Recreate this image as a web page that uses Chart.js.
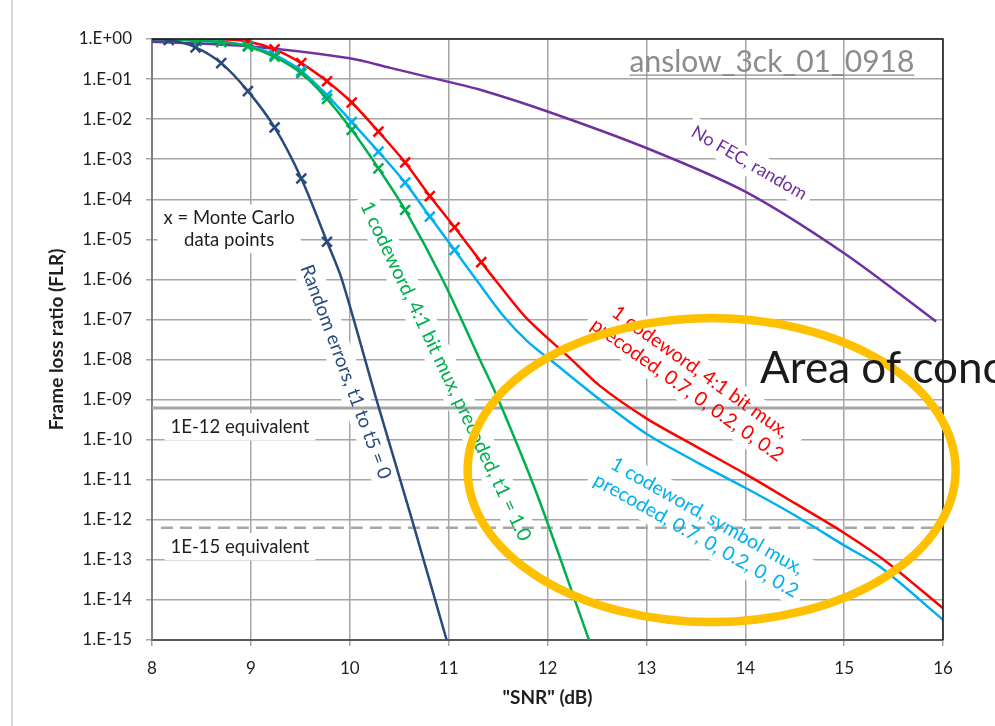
<!DOCTYPE html>
<html>
<head>
<meta charset="utf-8">
<script src="https://cdn.jsdelivr.net/npm/chart.js@4.4.1/dist/chart.umd.min.js"></script>
<style>
  html, body { margin: 0; background: #fff; }
  #wrap { width: 995px; height: 726px; }
</style>
</head>
<body>
<div id="wrap"><canvas id="flr" width="995" height="726"></canvas></div>
<script>
// --- data: SNR (dB) vs frame loss ratio ---
var yTicks = [1, 1e-1, 1e-2, 1e-3, 1e-4, 1e-5, 1e-6, 1e-7, 1e-8, 1e-9, 1e-10, 1e-11, 1e-12, 1e-13, 1e-14, 1e-15];
var yTickLabels = ['1.E+00', '1.E-01', '1.E-02', '1.E-03', '1.E-04', '1.E-05', '1.E-06', '1.E-07',
                   '1.E-08', '1.E-09', '1.E-10', '1.E-11', '1.E-12', '1.E-13', '1.E-14', '1.E-15'];

// random errors, t1 to t5 = 0 (Monte Carlo points at index 1..7)
var snrRandom = [8.0, 8.17, 8.44, 8.70, 8.97, 9.24, 9.51, 9.77, 9.92, 10.27, 10.63, 10.98];
var flrRandom = [0.98, 0.95, 0.62, 0.25, 0.050, 6.2e-3, 3.3e-4, 8.7e-6, 1.0e-6, 1.0e-9, 1.0e-12, 1e-15];

// 1 codeword, 4:1 bit mux, precoded, t1 = 1.0 (points 1..10)
var snrBitT1 = [8.0, 8.17, 8.45, 8.70, 8.97, 9.24, 9.51, 9.77, 10.02, 10.29, 10.56, 10.94, 11.32, 11.49, 11.89, 12.42];
var flrBitT1 = [0.99, 0.98, 0.91, 0.85, 0.65, 0.36, 0.14, 0.032, 5.4e-3, 5.9e-4, 5.4e-5, 9.8e-7, 9.5e-9, 1.2e-9, 4.6e-12, 1e-15];

// 1 codeword, symbol mux, precoded 0.7,0,0.2,0,0.2 (points 1..12)
var snrSym = [8.0, 8.17, 8.45, 8.70, 8.97, 9.24, 9.51, 9.77, 10.02, 10.29, 10.56, 10.81, 11.06,
              11.28, 11.55, 11.8, 12.05, 12.53, 13.0, 13.54, 14.0, 14.5, 15.0, 15.36, 16.0];
var flrSym = [0.99, 0.98, 0.91, 0.85, 0.68, 0.40, 0.16, 0.040, 8.5e-3, 1.55e-3, 2.6e-4, 3.7e-5, 5.4e-6,
              9.8e-7, 1.26e-7, 2.8e-8, 8.9e-9, 1.0e-9, 1.4e-10, 2.5e-11, 6.3e-12, 1.3e-12, 2.3e-13, 6.8e-14, 3.2e-15];

// 1 codeword, 4:1 bit mux, precoded 0.7,0,0.2,0,0.2 (points 1..13)
var snrBit = [8.0, 8.17, 8.45, 8.70, 8.97, 9.24, 9.51, 9.77, 10.02, 10.29, 10.56, 10.81, 11.06, 11.33,
              11.5, 11.8, 12.23, 12.53, 13.0, 13.5, 14.0, 14.5, 15.0, 15.43, 16.0];
var flrBit = [1.0, 1.0, 1.0, 0.98, 0.87, 0.55, 0.25, 0.088, 0.026, 4.9e-3, 8.3e-4, 1.2e-4, 2.0e-5, 2.7e-6,
              7.9e-7, 1.0e-7, 1.07e-8, 2.2e-9, 3.4e-10, 6.8e-11, 1.4e-11, 2.6e-12, 4.7e-13, 8.9e-14, 6.2e-15];

// no FEC, random
var snrNoFec = [8.0, 9.0, 10.0, 10.41, 11.0, 11.32, 12.0, 13.0, 14.0, 15.0, 15.93];
var flrNoFec = [0.85, 0.65, 0.33, 0.19, 0.085, 0.054, 0.0155, 1.9e-3, 1.55e-4, 4.5e-6, 8.9e-8];

// equivalence reference levels
var snrEq12 = [8.0, 16.0];
var flrEq12 = [6.2e-10, 6.2e-10];
var snrEq15 = [8.09, 16.0];
var flrEq15 = [6.3e-13, 6.3e-13];

// --- helpers ---
var pts = function (xs, ys) {
  return xs.map(function (x, i) { return {x: x, y: ys[i]}; });
};
var GRID = '#a6a6a6';
var TEXT = '#1f1f1f';
var FONT = 'Lato, "Liberation Sans", sans-serif';

var curve = function (label, xs, ys, color, mcFrom, mcTo) {
  return {
    label: label, data: pts(xs, ys),
    borderColor: color, backgroundColor: color,
    borderWidth: 2.5, tension: 0.3,
    pointStyle: 'crossRot', pointBorderWidth: 2.5, pointBorderColor: color,
    pointRadius: function (c) { return (c.dataIndex >= mcFrom && c.dataIndex <= mcTo) ? 7 : 0; },
    pointHoverRadius: 0,
  };
};

// labels along curves: centre given in (dB, log10 FLR)
var NOTES = [
  {lines: ['No FEC, random'], x: 14.04, e: -3.09, rot: 30, color: '#7030A0', size: 18},
  {lines: ['Random errors, t1 to t5 = 0'], x: 9.96, e: -8.31, rot: 69.5, color: '#294A7C', size: 19},
  {lines: ['1 codeword, 4:1 bit mux, precoded, t1 = 1.0'], x: 10.97, e: -8.29, rot: 64.6, color: '#00B050', size: 19.5},
  {lines: ['1 codeword, 4:1 bit mux,', 'precoded, 0.7, 0, 0.2, 0, 0.2'], x: 13.48, e: -8.53, rot: 35.5, color: '#FF0000', size: 19.5},
  {lines: ['1 codeword, symbol mux,', 'precoded, 0.7, 0, 0.2, 0, 0.2'], x: 13.56, e: -12.15, rot: 29.5, color: '#00B0F0', size: 19.5},
  {lines: ['x = Monte Carlo', 'data points'], x: 8.78, e: -4.74, rot: 0, color: TEXT, size: 18.5},
  {lines: ['1E-12 equivalent'], x: 8.89, e: -9.68, rot: 0, color: TEXT, size: 18.5},
  {lines: ['1E-15 equivalent'], x: 8.89, e: -12.67, rot: 0, color: TEXT, size: 18.5},
];

var at = function (chart, x, e) {
  return {x: chart.scales.x.getPixelForValue(x), y: chart.scales.y.getPixelForValue(Math.pow(10, e))};
};

var notesPlugin = {
  id: 'notes',
  beforeDatasetsDraw: function (chart) {
    // white boxes behind labels knock out the gridlines
    var ctx = chart.ctx;
    NOTES.forEach(function (n) {
      var p = at(chart, n.x, n.e);
      ctx.save();
      ctx.font = n.size + 'px ' + FONT;
      var w = Math.max.apply(null, n.lines.map(function (s) { return ctx.measureText(s).width; }));
      var lh = n.size * 1.15;
      var h = lh * n.lines.length;
      ctx.translate(p.x, p.y);
      ctx.rotate(n.rot * Math.PI / 180);
      ctx.fillStyle = '#fff';
      ctx.fillRect(-w / 2 - 6, -h / 2 - 3, w + 12, h + 6);
      ctx.restore();
    });
  },
  afterDatasetsDraw: function (chart) {
    var ctx = chart.ctx;
    var a = chart.chartArea;

    NOTES.forEach(function (n) {
      var p = at(chart, n.x, n.e);
      var lh = n.size * 1.15;
      ctx.save();
      ctx.font = n.size + 'px ' + FONT;
      ctx.fillStyle = n.color;
      ctx.textAlign = 'center';
      ctx.textBaseline = 'middle';
      ctx.translate(p.x, p.y);
      ctx.rotate(n.rot * Math.PI / 180);
      n.lines.forEach(function (s, i) {
        ctx.fillText(s, 0, (i - (n.lines.length - 1) / 2) * lh);
      });
      ctx.restore();
    });

    // plot frame, top and right
    ctx.save();
    ctx.strokeStyle = '#1a1a1a';
    ctx.lineWidth = 1.5;
    ctx.beginPath();
    ctx.moveTo(a.left, a.top);
    ctx.lineTo(a.right, a.top);
    ctx.lineTo(a.right, a.bottom);
    ctx.stroke();
    ctx.restore();

    // document tag, underlined
    var tag = at(chart, 15.71, -0.55);
    ctx.save();
    ctx.font = '30px ' + FONT;
    ctx.fillStyle = '#8c8c8c';
    ctx.textAlign = 'right';
    ctx.textBaseline = 'alphabetic';
    ctx.fillText('anslow_3ck_01_0918', tag.x, tag.y + 11);
    var tw = ctx.measureText('anslow_3ck_01_0918').width;
    ctx.strokeStyle = '#8c8c8c';
    ctx.lineWidth = 1.2;
    ctx.beginPath();
    ctx.moveTo(tag.x - tw, tag.y + 14);
    ctx.lineTo(tag.x, tag.y + 14);
    ctx.stroke();
    ctx.restore();

    // area of concern
    var c = at(chart, 13.66, -10.76);
    ctx.save();
    ctx.strokeStyle = '#FFC000';
    ctx.lineWidth = 8.5;
    ctx.beginPath();
    ctx.ellipse(c.x, c.y, 244, 152, 0, 0, Math.PI * 2);
    ctx.stroke();
    var t = at(chart, 14.15, -8.24);
    ctx.font = '44px ' + FONT;
    ctx.fillStyle = '#1a1a1a';
    ctx.textAlign = 'left';
    ctx.textBaseline = 'middle';
    ctx.fillText('Area of concern', t.x, t.y);
    ctx.restore();

    // slide edge on the left
    ctx.save();
    ctx.strokeStyle = '#c8c8c8';
    ctx.lineWidth = 1.5;
    ctx.beginPath();
    ctx.moveTo(12, 0);
    ctx.lineTo(12, chart.height);
    ctx.stroke();
    ctx.restore();
  }
};

new Chart(document.getElementById('flr').getContext('2d'), {
  type: 'line',
  data: {
    datasets: [
      curve('Random errors, t1 to t5 = 0', snrRandom, flrRandom, '#294A7C', 1, 7),
      curve('1 codeword, 4:1 bit mux, precoded, t1 = 1.0', snrBitT1, flrBitT1, '#00B050', 1, 10),
      curve('1 codeword, symbol mux, precoded', snrSym, flrSym, '#00B0F0', 1, 12),
      curve('1 codeword, 4:1 bit mux, precoded', snrBit, flrBit, '#FF0000', 1, 13),
      curve('No FEC, random', snrNoFec, flrNoFec, '#7030A0', 99, 99),
      {label: '1E-12 equivalent', data: pts(snrEq12, flrEq12), borderColor: GRID, borderWidth: 3, pointRadius: 0},
      {label: '1E-15 equivalent', data: pts(snrEq15, flrEq15), borderColor: GRID, borderWidth: 2.5,
       borderDash: [12, 7], pointRadius: 0},
    ]
  },
  options: {
    responsive: false, animation: false, devicePixelRatio: 1,
    layout: {padding: {top: 39, right: 52, left: 0, bottom: 0}},
    plugins: {legend: {display: false}, tooltip: {enabled: false}},
    scales: {
      x: {
        type: 'linear', min: 8, max: 16,
        afterFit: function (s) { s.height = 86; },
        ticks: {stepSize: 1, color: TEXT, font: {family: FONT, size: 17}, padding: 12},
        grid: {color: GRID, lineWidth: 1.5, tickLength: 6, tickColor: GRID},
        border: {color: '#595959', width: 2},
        title: {display: true, text: '"SNR" (dB)', color: TEXT,
                font: {family: FONT, size: 19, weight: 'bold'}, padding: {bottom: 17}},
      },
      y: {
        type: 'logarithmic', min: 1e-15, max: 1,
        afterFit: function (s) { s.width = 152; },
        afterBuildTicks: function (s) { s.ticks = yTicks.map(function (v) { return {value: v}; }); },
        ticks: {
          color: TEXT, font: {family: FONT, size: 17}, padding: 14, autoSkip: false,
          callback: function (v, i) { return yTickLabels[i]; }
        },
        grid: {color: GRID, lineWidth: 1.5, tickLength: 6, tickColor: GRID},
        border: {color: '#7f7f7f', width: 2},
        title: {display: true, text: 'Frame loss ratio (FLR)', color: TEXT,
                font: {family: FONT, size: 19, weight: 'bold'}, padding: {top: 45}},
      }
    }
  },
  plugins: [notesPlugin]
});
</script>
</body>
</html>
